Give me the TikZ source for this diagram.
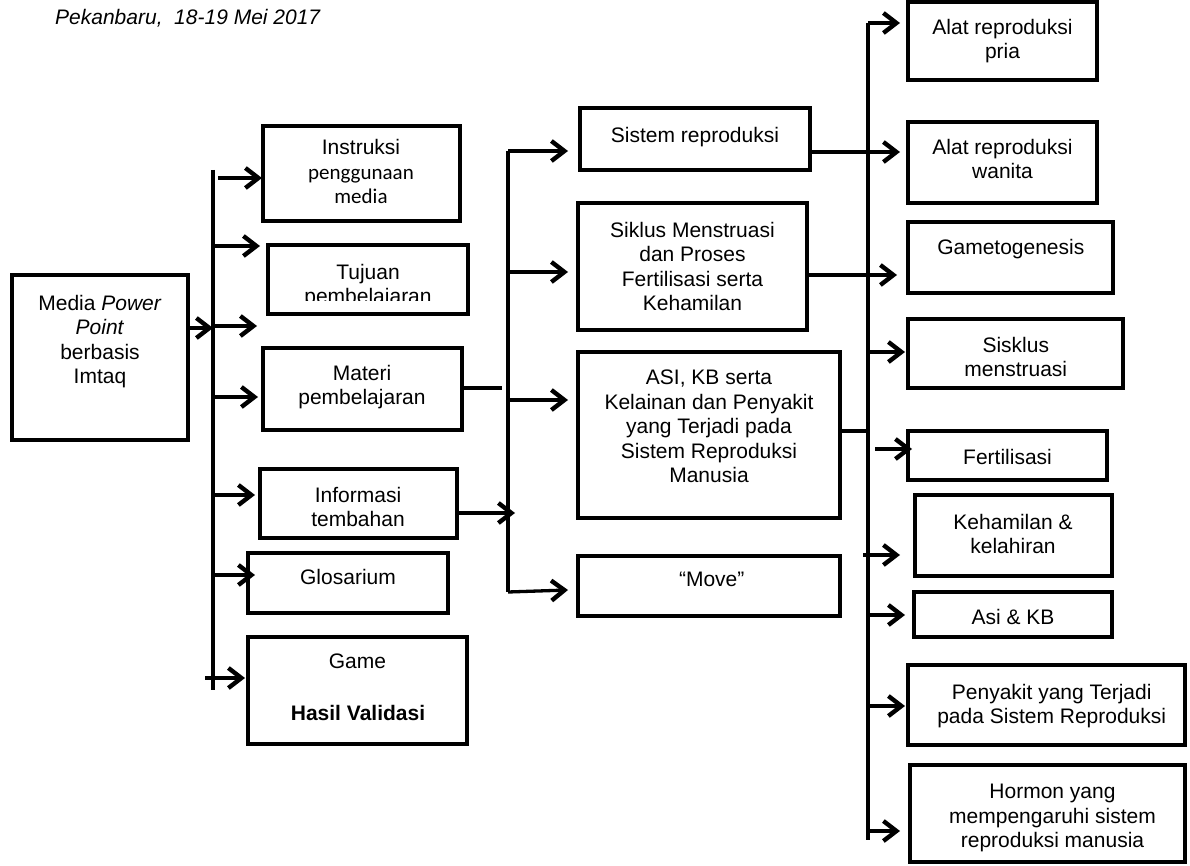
\documentclass[tikz,border=0pt]{standalone}
\usepackage{fontspec}
\setmainfont{Liberation Sans}
\newfontfamily\calibfont{Carlito}
\usetikzlibrary{arrows.meta,fit}
\begin{document}
\begin{tikzpicture}[x=1pt,y=-1pt,
  box/.style={draw, line width=4.6pt, inner sep=0pt, outer sep=0pt},
  txt/.style={align=center, inner sep=0pt, anchor=north, font=\fontsize{21}{24.5}\selectfont},
  conn/.style={line width=3.3pt},
  arr/.style={line width=3.3pt, -{Straight Barb[length=13pt,width=20pt,line width=4.4pt]}}]
\useasboundingbox (0,0) rectangle (1190,866);

% title
\node[anchor=north west, inner sep=0pt, font=\fontsize{21}{24.5}\selectfont\itshape] (title) at (55,9) {Pekanbaru,\ \ 18-19 Mei 2017};

% boxes
\node[box, fit={(12,275) (188,440)}] (bMedia) {};
\node[box, fit={(263,126) (460,221)}] (bInstr) {};
\node[box, fit={(268,245) (468,314)}] (bTujuan) {};
\node[box, fit={(263,348) (462,430)}] (bMateri) {};
\node[box, fit={(260,469) (457,538)}] (bInfo) {};
\node[box, fit={(248,553) (448,613)}] (bGlos) {};
\node[box, fit={(248,637) (467,744)}] (bGame) {};
\node[box, fit={(580,108) (810,170)}] (bSis) {};
\node[box, fit={(578,203) (807,330)}] (bSik) {};
\node[box, fit={(578,352) (840,518)}] (bAsi) {};
\node[box, fit={(578,556) (840,616)}] (bMove) {};
\node[box, fit={(908,2) (1097,80)}] (bPria) {};
\node[box, fit={(908,122) (1097,203)}] (bWan) {};
\node[box, fit={(908,222) (1113,293)}] (bGam) {};
\node[box, fit={(908,319) (1123,388)}] (bSisk) {};
\node[box, fit={(908,431) (1107,480)}] (bFert) {};
\node[box, fit={(915,495) (1112,576)}] (bKeh) {};
\node[box, fit={(914,592) (1112,637)}] (bAsiKB) {};
\node[box, fit={(908,665) (1185,745)}] (bPeny) {};
\node[box, fit={(910,765) (1185,862)}] (bHorm) {};

% texts
\node[txt] (tMedia) at (100,295) {Media \textit{Power}\\\textit{Point}\\berbasis\\Imtaq};
\node[txt] (tInstr) at (361,139) {Instruksi\\[0.5pt]{\calibfont penggunaan}\\{\calibfont media}};
\begin{scope}
  \clip (268,245) rectangle (468,301);
  \node[txt] (tTujuan) at (368,264) {Tujuan\\pembelajaran};
\end{scope}
\node[txt] (tMateri) at (362,365) {Materi\\pembelajaran};
\node[txt] (tInfo) at (358,487) {Informasi\\tembahan};
\node[txt] (tGlos) at (348,569) {Glosarium};
\node[txt] (tGame) at (357.5,654) {Game};
\node[txt, font=\fontsize{21}{24.5}\selectfont\bfseries] (tHasil) at (358,705) {Hasil Validasi};
\node[txt] (tSis) at (695,127) {Sistem reproduksi};
\node[txt] (tSik) at (692.5,222) {Siklus Menstruasi\\dan Proses\\Fertilisasi serta\\Kehamilan};
\node[txt] (tAsi) at (709,370) {ASI, KB serta\\Kelainan dan Penyakit\\yang Terjadi pada\\Sistem Reproduksi\\Manusia};
\node[txt] (tMove) at (711.7,572) {“Move”};
\node[txt] (tPria) at (1002.5,19) {Alat reproduksi\\pria};
\node[txt] (tWan) at (1002.5,139) {Alat reproduksi\\wanita};
\node[txt] (tGam) at (1010.8,239) {Gametogenesis};
\begin{scope}
  \clip (908,319) rectangle (1123,376);
  \node[txt] (tSisk) at (1015.8,337) {Sisklus\\menstruasi};
\end{scope}
\node[txt] (tFert) at (1007.5,449) {Fertilisasi};
\node[txt] (tKeh) at (1013,514) {Kehamilan \&\\kelahiran};
\node[txt] (tAsiKB) at (1013,609) {Asi \& KB};
\node[txt] (tPeny) at (1051.7,684) {Penyakit yang Terjadi\\pada Sistem Reproduksi};
\node[txt] (tHorm) at (1052.5,784) {Hormon yang\\mempengaruhi sistem\\reproduksi manusia};

% bus coordinates
\coordinate (LBt) at (213,170);
\coordinate (LBb) at (213,690);
\coordinate (MBt) at (508,151);
\coordinate (MBb) at (508,592);
\coordinate (RBt) at (868,23);
\coordinate (RBb) at (868,840);
\coordinate (free) at (257,326);
\coordinate (mEnd) at (502,388);

% buses
\draw[conn] (LBt) -- (LBb);
\draw[conn] (MBt) -- (MBb);
\draw[conn] (RBt) -- (RBb);

% left bus
\draw[arr] (bMedia.east |- 0,328) -- (LBt |- 0,328);
\draw[arr] ([xshift=5pt]LBt |- 0,178) -- ([xshift=-1pt]bInstr.west |- 0,178);
\draw[arr] (LBt |- 0,246) -- ([xshift=-8pt]bTujuan.west |- 0,246);
\draw[arr] (LBt |- 0,326) -- (free);
\draw[arr] (LBt |- 0,397) -- ([xshift=-5pt]bMateri.west |- 0,397);
\draw[arr] (LBt |- 0,495) -- ([xshift=-5pt]bInfo.west |- 0,495);
\draw[arr] (LBt |- 0,575) -- ([xshift=7pt]bGlos.west |- 0,575);
\draw[arr] ([xshift=-8pt]LBt |- 0,678) -- ([xshift=-3pt]bGame.west |- 0,678);

% middle bus
\draw[conn] (bMateri.east |- 0,388) -- (mEnd);
\draw[arr] (MBt) -- ([xshift=-12pt]bSis.west |- MBt);
\draw[arr] (MBt |- 0,272) -- ([xshift=-10pt]bSik.west |- 0,272);
\draw[arr] (MBt |- 0,400) -- ([xshift=-10pt]bAsi.west |- 0,400);
\draw[arr] (bInfo.east |- 0,513) -- ([xshift=7pt]MBt |- 0,513);
\draw[arr] (MBb) -- ([xshift=-10pt]bMove.west |- 0,590);

% right bus
\draw[arr] (bSis.east |- 0,152) -- ([xshift=-8pt]bWan.west |- 0,152);
\draw[arr] (bSik.east |- 0,275) -- ([xshift=-11pt]bGam.west |- 0,275);
\draw[conn] (bAsi.east |- 0,431) -- (RBt |- 0,431);
\draw[arr] (RBt) -- ([xshift=-8pt]bPria.west |- RBt);
\draw[arr] (RBt |- 0,352) -- ([xshift=-3pt]bSisk.west |- 0,352);
\draw[arr] ([xshift=7pt]RBt |- 0,449) -- ([xshift=4pt]bFert.west |- 0,449);
\draw[arr] ([xshift=-5pt]RBt |- 0,555) -- ([xshift=-15pt]bKeh.west |- 0,555);
\draw[arr] (RBt |- 0,615) -- ([xshift=-9pt]bAsiKB.west |- 0,615);
\draw[arr] (RBt |- 0,706) -- ([xshift=-3pt]bPeny.west |- 0,706);
\draw[arr] (RBt |- 0,831) -- ([xshift=-10pt]bHorm.west |- 0,831);
\end{tikzpicture}
\end{document}
